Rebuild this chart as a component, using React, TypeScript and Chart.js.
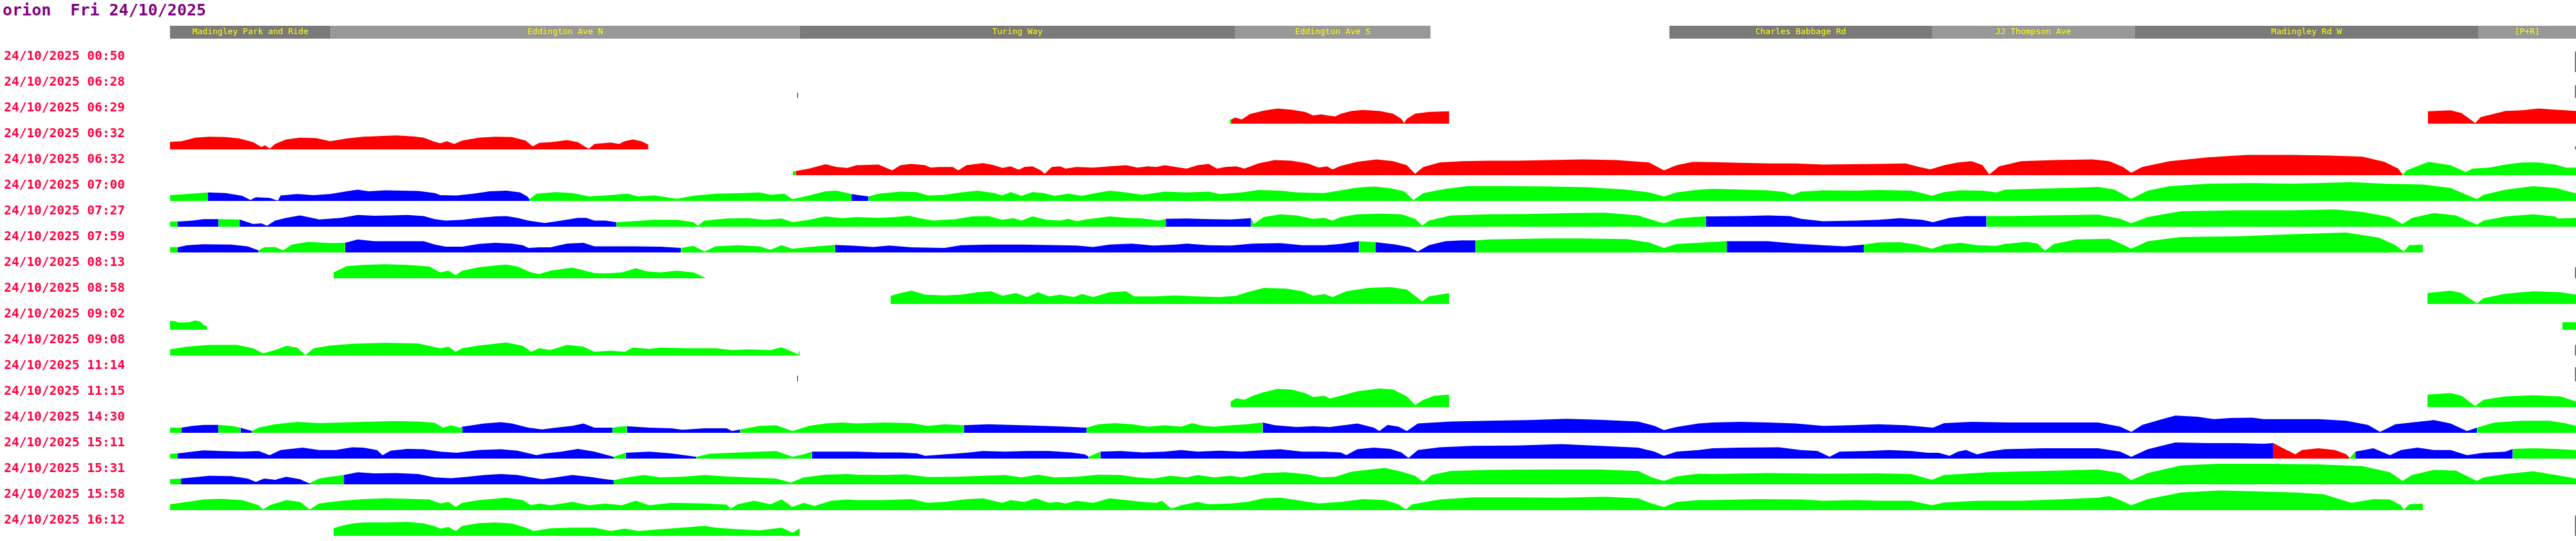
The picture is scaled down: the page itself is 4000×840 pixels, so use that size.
import React, { useEffect, useRef } from 'react';
import { Chart, registerables } from 'chart.js';

Chart.register(...registerables);

const TITLE = 'orion  Fri 24/10/2025';

const ROW_LABELS = [
  '24/10/2025 00:50', '24/10/2025 06:28', '24/10/2025 06:29', '24/10/2025 06:32',
  '24/10/2025 06:32', '24/10/2025 07:00', '24/10/2025 07:27', '24/10/2025 07:59',
  '24/10/2025 08:13', '24/10/2025 08:58', '24/10/2025 09:02', '24/10/2025 09:08',
  '24/10/2025 11:14', '24/10/2025 11:15', '24/10/2025 14:30', '24/10/2025 15:11',
  '24/10/2025 15:31', '24/10/2025 15:58', '24/10/2025 16:12',
];

const ROUTE_LENGTH = 4371; // metres along the route
const SPEED_BAND = 75; // km/h span of each row band
const LABEL_SPEED = 45; // where the row label sits inside its band

const SEG_NAMES = ['Madingley Park and Ride', 'Eddington Ave N', 'Turing Way', 'Eddington Ave S', 'Charles Babbage Rd', 'JJ Thompson Ave', 'Madingley Rd W', '[P+R]'];
const SEG_START = [0, 292, 1144, 1935, 2724, 3201, 3569, 4194];
const SEG_END = [292, 1144, 1935, 2290, 3201, 3569, 4194, 4371];
const SEG_SHADE = ['#7a7a7a', '#989898', '#7a7a7a', '#989898', '#7a7a7a', '#989898', '#7a7a7a', '#989898'];

const COLORS: Record<string, string> = { G: '#00ff00', B: '#0000ff', R: '#ff0000' };

type Pt = [number, number];
type Run = [number, string | null];

// [distance m, speed km/h]
const P02: Pt[] = [[1925,12],[1928,12],[1935,18],[1947,12],[1962,28],[1987,38],[2012,44],[2037,41],[2062,34],[2077,24],[2092,27],[2102,24],[2117,21],[2127,29],[2147,37],[2167,40],[2197,37],[2222,29],[2237,14],[2242,2],[2247,14],[2262,29],[2287,34],[2324,36],
  [4102,36],[4143,39],[4163,31],[4188,2],[4198,19],[4223,29],[4243,37],[4273,39],[4303,44],[4333,41],[4371,37]];
const C02: Run[] = [[1925,'G'],[1928,'R'],[2324,null],[4102,'R']];

const P03: Pt[] = [[0,22],[21,24],[46,34],[71,37],[101,36],[126,32],[151,21],[166,7],[173,12],[181,2],[191,16],[211,29],[236,34],[266,33],[291,24],[321,32],[351,37],[381,39],[411,41],[441,38],[461,34],[481,22],[491,18],[503,24],[516,16],[531,26],[561,34],[591,37],[621,36],[646,26],[659,9],[671,19],[691,21],[706,24],[721,27],[741,21],[753,9],[761,2],[771,16],[801,20],[816,16],[826,24],[841,29],[856,24],[869,14]];
const C03: Run[] = [[0,'R'],[869,null]];

const P04: Pt[] = [[1131,10],[1137,12],[1161,19],[1191,32],[1211,24],[1231,21],
  [1247,29],[1287,31],[1312,14],[1327,29],[1347,33],[1372,29],[1382,22],[1397,24],[1422,24],[1432,14],[1447,29],[1477,35],[1497,29],[1512,21],[1527,26],[1542,16],[1552,24],[1567,26],[1582,14],[1589,4],[1602,24],[1617,26],[1627,19],[1647,24],[1677,22],[1707,26],[1737,29],[1747,26],[1757,22],[1777,26],[1792,24],[1807,29],[1827,24],[1847,19],[1867,29],[1887,33],[1902,19],[1917,24],[1937,26],[1952,19],[1977,34],[2007,44],[2037,42],[2067,34],[2087,22],[2102,26],[2112,17],[2127,27],[2157,39],[2192,46],[2222,41],[2247,29],[2262,4],[2277,24],[2307,37],[2347,41],[2397,42],[2447,42],[2507,44],[2567,46],[2627,44],[2687,37],[2714,14],[2737,29],[2767,39],
  [2803,38],[2853,36],[2903,34],[2953,34],[3003,31],[3053,32],[3103,33],[3153,34],[3178,24],[3198,17],[3223,29],[3248,37],[3273,41],[3293,29],[3305,2],[3323,26],[3363,41],[3423,44],[3493,46],[3523,41],[3548,24],[3563,7],[3583,24],[3633,41],[3703,52],[3773,59],[3853,59],[3923,57],[3983,54],[4023,39],[4048,19],[4056,2],[4063,14],[4103,39],[4143,29],[4171,9],[4183,19],[4213,22],[4243,31],[4273,37],[4303,37],[4333,31],[4353,22],[4371,22]];
const C04: Run[] = [[1131,'G'],[1137,'R'],[4056,'G']];

const P05: Pt[] = [[0,17],[31,20],[69,25],[101,23],[131,15],[146,3],[156,11],[181,9],[196,1],[201,16],[231,20],[261,17],[291,20],[321,28],[341,33],[361,28],[391,31],[421,30],[451,29],[481,23],[491,17],[521,16],[551,21],[581,28],[611,30],[636,25],[649,13],[653,5],[666,21],[701,26],[731,23],[761,13],[791,16],[831,21],[851,13],[881,16],[921,6],[951,15],[991,21],[1041,23],[1071,25],[1091,18],[1116,21],[1131,5],[1161,16],[1191,28],[1211,30],[1238,20],
  [1247,18],[1269,13],[1287,21],[1327,27],[1357,26],[1377,16],[1407,18],[1437,25],[1467,30],[1497,23],[1512,16],[1527,26],[1547,15],[1567,26],[1587,23],[1607,15],[1632,21],[1657,15],[1682,23],[1707,30],[1737,25],[1767,18],[1807,27],[1847,25],[1887,27],[1907,20],[1947,25],[1977,32],[2017,30],[2047,25],[2097,23],[2127,31],[2157,39],[2187,42],[2217,37],[2242,28],[2259,3],[2277,23],[2317,35],[2357,43],[2427,43],[2507,42],[2577,40],[2647,33],[2687,25],[2714,13],[2737,25],[2777,33],
  [2803,35],[2863,33],[2903,31],[2933,26],[2948,18],[2963,27],[3003,31],[3063,30],[3103,32],[3163,30],[3183,23],[3201,15],[3223,26],[3253,31],[3293,30],[3318,25],[3333,33],[3403,36],[3453,38],[3503,41],[3533,33],[3563,6],[3593,30],[3633,43],[3703,50],[3783,52],[3853,50],[3903,52],[3963,55],[4023,50],[4093,48],[4143,38],[4191,5],[4203,18],[4243,33],[4293,43],[4333,38],[4371,22]];
const C05: Run[] = [[0,'G'],[69,'B'],[651,'G'],[1238,'B'],[1269,'G']];

const P06: Pt[] = [[0,15],[14,15],[41,18],[61,22],[88,22],[126,21],[151,8],[166,10],[176,3],[191,18],[211,26],[236,33],[251,28],[271,21],[311,26],[341,34],[371,32],[401,33],[431,34],[461,31],[481,22],[501,18],[531,20],[561,26],[591,30],[611,31],[631,26],[651,18],[681,11],[711,18],[741,26],[756,26],[771,18],[791,18],[811,13],[841,16],[881,20],[921,20],[951,13],[959,3],[971,18],[1011,24],[1051,25],[1081,20],[1111,24],[1131,13],[1161,20],[1191,30],[1221,25],
  [1247,28],[1287,26],[1317,28],[1342,32],[1367,23],[1387,18],[1427,22],[1457,30],[1487,31],[1512,20],[1532,25],[1547,18],[1567,30],[1592,20],[1617,18],[1632,23],[1647,16],[1667,22],[1687,26],[1707,30],[1737,26],[1767,24],[1797,18],[1809,23],[1847,24],[1887,22],[1927,21],[1964,25],[1969,8],[1987,28],[2017,36],[2047,33],[2077,23],[2097,26],[2112,18],[2127,28],[2157,36],[2197,38],[2237,36],[2262,23],[2275,3],[2287,18],[2327,33],[2397,36],[2467,37],[2547,40],[2607,41],[2667,33],[2692,20],[2714,10],[2737,23],[2767,28],[2790,30],
  [2803,30],[2853,31],[2903,33],[2943,31],[2963,23],[3003,16],[3063,18],[3103,20],[3143,25],[3183,20],[3203,13],[3233,26],[3263,31],[3300,31],[3343,31],[3403,33],[3503,35],[3543,23],[3563,10],[3593,28],[3653,45],[3753,48],[3853,48],[3933,50],[3983,43],[4033,28],[4056,8],[4073,26],[4113,40],[4153,33],[4191,6],[4203,18],[4243,30],[4293,36],[4333,30],[4338,24],[4371,26]];
const C06: Run[] = [[0,'G'],[14,'B'],[88,'G'],[126,'B'],[811,'G'],[1809,'B'],[1964,'G'],[2790,'B'],[3300,'G']];

const P07: Pt[] = [[0,16],[14,15],[31,21],[61,24],[111,23],[141,18],[161,6],[171,15],[191,16],[206,6],[221,23],[251,31],[291,27],[318,28],[341,38],[371,33],[411,33],[461,33],[481,23],[501,17],[531,17],[561,25],[591,28],[621,26],[641,21],[651,13],[671,15],[691,15],[721,26],[751,28],[771,18],[791,18],[841,18],[891,17],[928,13],[951,19],[971,3],[991,18],[1031,21],[1071,18],[1091,8],[1111,21],[1131,11],[1161,16],[1208,22],
  [1247,19],[1277,16],[1307,20],[1347,15],[1407,13],[1437,21],[1487,23],[1547,23],[1617,21],[1647,20],[1677,16],[1707,23],[1747,26],[1787,20],[1827,23],[1847,26],[1887,21],[1927,20],[1967,26],[2017,27],[2057,21],[2097,21],[2127,25],[2160,33],[2190,30],[2227,23],[2252,15],[2267,3],[2287,21],[2317,33],[2347,35],[2372,35],[2397,38],[2497,41],[2567,41],[2647,39],[2687,29],[2714,13],[2737,25],[2777,28],
  [2803,31],[2828,33],[2903,33],[2953,26],[3003,21],[3043,18],[3077,23],[3103,29],[3143,30],[3173,23],[3201,11],[3223,23],[3253,28],[3283,21],[3318,19],[3333,25],[3373,31],[3393,26],[3406,5],[3423,25],[3463,38],[3523,40],[3548,23],[3563,11],[3593,33],[3653,45],[3753,47],[3853,53],[3953,58],[4013,43],[4043,21],[4058,3],[4068,21],[4093,23]];
const C07: Run[] = [[0,'G'],[14,'B'],[161,'G'],[318,'B'],[928,'G'],[1208,'B'],[2160,'G'],[2190,'B'],[2372,'G'],[2828,'B'],[3077,'G'],[4093,null]];

const P08: Pt[] = [[297,17],[321,35],[351,39],[391,41],[431,39],[471,34],[491,17],[506,22],[519,9],[531,22],[561,32],[591,37],[611,40],[631,34],[656,17],[671,12],[691,22],[731,31],[761,19],[771,15],[791,14],[821,17],[846,29],[866,20],[891,17],[921,22],[951,17],[974,0]];
const C08: Run[] = [[297,'G'],[974,null]];

const P09: Pt[] = [[1309,24],[1327,32],[1347,39],[1372,27],[1407,25],[1437,27],[1467,34],[1492,37],[1512,24],[1537,32],[1557,20],[1577,34],[1597,22],[1617,27],[1642,20],[1657,29],[1677,20],[1707,34],[1737,37],[1752,22],[1787,22],[1827,25],[1867,22],[1907,20],[1937,24],[1957,34],[1987,47],[2027,45],[2057,37],[2077,24],[2097,29],[2112,20],[2137,37],[2177,47],[2217,49],[2247,42],[2275,7],[2287,22],[2324,32],
  [4101,32],[4143,39],[4163,32],[4191,2],[4203,17],[4243,30],[4293,37],[4343,34],[4371,27]];
const C09: Run[] = [[1309,'G'],[2324,null],[4101,'G']];

const P10: Pt[] = [[0,26],[8,26],[15,21],[35,22],[45,27],[55,24],[60,15],[64,12],[67,11],[4346,22],[4371,22]];
const C10: Run[] = [[0,'G'],[67,null],[4346,'G']];

const P11: Pt[] = [[0,18],[31,26],[71,31],[121,31],[151,21],[169,6],[191,16],[211,28],[231,23],[246,1],[261,21],[291,29],[331,34],[391,37],[451,35],[491,21],[506,26],[519,11],[531,21],[561,29],[611,38],[641,28],[656,11],[671,21],[691,16],[721,31],[751,26],[771,11],[801,14],[826,11],[841,23],[871,19],[891,23],[941,21],[991,21],[1021,16],[1051,18],[1091,16],[1111,24],[1131,11],[1141,3],[1144,16]];
const C11: Run[] = [[0,'G'],[1144,null]];

const P13: Pt[] = [[1927,16],[1937,26],[1952,21],[1967,33],[1987,43],[2012,53],[2037,51],[2062,41],[2077,29],[2097,33],[2107,25],[2127,33],[2157,46],[2197,54],[2222,51],[2247,31],[2262,6],[2277,21],[2297,33],[2324,36],
  [4101,36],[4143,41],[4163,33],[4188,3],[4203,21],[4243,31],[4293,34],[4343,31],[4371,16]];
const C13: Run[] = [[1927,'G'],[2324,null],[4101,'G']];

const P14: Pt[] = [[0,15],[21,15],[41,20],[61,23],[88,23],[111,20],[128,15],[149,5],[161,15],[191,25],[231,32],[271,28],[311,30],[351,32],[411,34],[451,33],[481,29],[496,15],[511,22],[526,15],[531,18],[541,20],[571,27],[601,31],[621,27],[651,15],[676,10],[701,15],[731,20],[751,27],[771,15],[804,15],[816,18],[830,19],[871,15],[911,13],[931,9],[971,13],[1011,13],[1021,5],[1036,10],[1071,20],[1101,22],[1131,5],[1161,20],[1191,27],[1221,30],
  [1247,27],[1297,30],[1347,28],[1377,20],[1407,25],[1442,22],[1487,25],[1547,22],[1587,20],[1627,18],[1665,15],[1687,25],[1717,28],[1747,25],[1777,18],[1807,22],[1837,18],[1857,28],[1877,20],[1897,18],[1927,22],[1957,25],[1985,30],[2007,22],[2047,17],[2077,19],[2107,17],[2137,23],[2157,27],[2187,15],[2197,5],[2212,23],[2232,18],[2247,5],[2267,27],[2327,33],[2397,35],[2467,37],[2537,41],[2597,38],[2667,33],[2697,20],[2714,8],[2737,17],[2777,27],
  [2803,30],[2853,32],[2903,30],[2953,27],[3003,20],[3053,22],[3103,25],[3153,22],[3203,15],[3223,28],[3273,32],[3343,30],[3403,30],[3503,30],[3543,18],[3563,3],[3583,23],[3613,37],[3643,50],[3683,47],[3713,40],[3743,43],[3783,44],[3803,40],[3853,40],[3903,40],[3953,35],[3993,23],[4015,3],[4043,25],[4083,32],[4113,37],[4143,27],[4173,5],[4191,15],[4223,30],[4273,35],[4323,35],[4353,27],[4371,20]];
const C14: Run[] = [[0,'G'],[21,'B'],[88,'G'],[128,'B'],[149,'G'],[531,'B'],[804,'G'],[830,'B'],[1036,'G'],[1442,'B'],[1665,'G'],[1985,'B'],[4191,'G']];

const P15: Pt[] = [[0,14],[14,15],[41,20],[61,24],[91,22],[131,20],[161,22],[181,10],[201,25],[241,32],[271,25],[301,25],[331,33],[351,32],[376,25],[386,10],[401,23],[431,28],[461,27],[491,20],[521,17],[561,25],[601,27],[631,23],[666,10],[681,15],[711,20],[741,28],[771,20],[806,5],[828,17],[871,20],[911,15],[956,5],[981,14],[1021,17],[1071,20],[1101,22],[1131,5],[1151,12],[1166,20],[1230,20],
  [1247,20],[1287,18],[1327,18],[1357,15],[1372,8],[1407,12],[1447,17],[1477,22],[1517,20],[1557,22],[1597,22],[1637,18],[1662,12],[1669,5],[1690,20],[1727,22],[1767,18],[1807,20],[1837,25],[1867,20],[1907,23],[1947,20],[1987,25],[2017,27],[2057,20],[2097,20],[2127,18],[2137,10],[2157,27],[2187,32],[2217,28],[2237,18],[2250,2],[2267,25],[2307,33],[2367,37],[2447,38],[2527,42],[2597,37],[2667,32],[2697,20],[2714,8],[2737,20],[2777,25],
  [2803,30],[2853,32],[2923,33],[2963,25],[2993,22],[3015,5],[3033,20],[3083,22],[3123,25],[3163,22],[3193,17],[3213,17],[3233,8],[3248,20],[3263,25],[3283,12],[3303,20],[3333,27],[3403,30],[3503,30],[3543,20],[3563,5],[3593,27],[3643,47],[3703,45],[3753,45],[3803,43],[3821,45],[3861,12],[3873,25],[3903,30],[3933,25],[3953,13],[3960,2],[3970,20],[4003,30],[4033,10],[4053,25],[4083,32],[4113,25],[4143,25],[4173,10],[4203,17],[4243,20],[4256,28],[4293,30],[4333,28],[4371,25]];
const C15: Run[] = [[0,'G'],[14,'B'],[806,'G'],[828,'B'],[956,'G'],[1166,'B'],[1669,'G'],[1690,'B'],[3821,'R'],[3960,'G'],[3970,'B'],[4256,'G']];

const P16: Pt[] = [[0,15],[20,17],[41,20],[71,25],[111,24],[141,17],[156,7],[171,17],[191,13],[211,22],[236,15],[254,2],[256,5],[271,17],[291,22],[316,27],[341,35],[371,32],[411,33],[451,30],[481,20],[511,18],[541,22],[571,27],[601,30],[631,27],[656,20],[676,15],[701,20],[731,27],[761,22],[791,15],[806,12],[831,20],[861,27],[891,20],[931,22],[971,27],[1011,23],[1051,20],[1101,17],[1128,5],[1151,20],[1191,28],[1231,30],
  [1247,28],[1297,27],[1337,29],[1377,21],[1427,22],[1477,25],[1517,27],[1547,20],[1577,28],[1607,20],[1647,22],[1687,28],[1727,27],[1757,20],[1787,17],[1817,25],[1847,20],[1867,27],[1897,20],[1927,25],[1947,20],[1987,33],[2027,35],[2067,29],[2092,20],[2117,22],[2147,37],[2207,48],[2237,37],[2262,25],[2277,7],[2292,27],[2327,39],[2397,42],[2497,43],[2597,43],[2667,39],[2692,20],[2714,10],[2737,23],[2777,31],
  [2803,30],[2903,33],[3003,31],[3103,32],[3163,30],[3201,13],[3223,27],[3303,35],[3403,39],[3503,43],[3543,33],[3563,12],[3593,33],[3653,55],[3723,60],[3803,60],[3903,58],[3983,53],[4033,35],[4056,10],[4073,27],[4113,42],[4153,40],[4191,10],[4203,20],[4243,30],[4293,38],[4343,25],[4371,17]];
const C16: Run[] = [[0,'G'],[20,'B'],[256,'G'],[316,'B'],[806,'G']];

const P17: Pt[] = [[0,17],[31,24],[61,31],[91,33],[131,29],[161,14],[169,2],[181,14],[211,29],[236,24],[254,2],[271,19],[311,27],[351,32],[391,34],[431,33],[471,31],[491,19],[506,24],[519,9],[531,21],[561,29],[611,36],[641,29],[656,14],[671,19],[691,14],[731,24],[761,14],[791,19],[821,14],[846,27],[871,14],[911,21],[971,19],[1011,16],[1019,4],[1031,17],[1061,27],[1091,17],[1111,31],[1131,9],[1151,21],[1171,12],[1201,27],[1231,31],
  [1247,29],[1297,29],[1347,32],[1377,21],[1407,24],[1447,32],[1477,34],[1512,21],[1527,29],[1552,24],[1572,34],[1597,21],[1612,24],[1627,19],[1647,27],[1677,21],[1707,34],[1737,29],[1767,24],[1792,21],[1802,27],[1819,4],[1837,14],[1867,24],[1887,17],[1927,19],[1957,24],[1987,34],[2017,36],[2047,29],[2087,19],[2127,24],[2167,32],[2207,29],[2232,17],[2245,2],[2257,17],[2307,31],[2367,37],[2447,37],[2527,36],[2607,39],[2667,34],[2692,19],[2714,9],[2737,24],[2777,29],
  [2803,29],[2883,32],[2963,31],[3003,27],[3063,29],[3103,27],[3163,27],[3201,14],[3223,22],[3283,27],[3363,27],[3443,32],[3503,36],[3523,41],[3543,29],[3563,14],[3593,32],[3653,51],[3723,57],[3803,54],[3863,51],[3913,46],[3943,31],[3963,21],[4003,32],[4033,31],[4053,14],[4058,1],[4068,17],[4093,19]];
const C17: Run[] = [[0,'G'],[4093,null]];

const P18: Pt[] = [[297,22],[311,29],[331,36],[351,39],[391,39],[431,41],[461,36],[481,28],[491,21],[506,26],[519,14],[531,29],[561,37],[591,39],[621,36],[646,24],[661,14],[691,22],[731,24],[771,24],[801,14],[826,21],[851,14],[891,19],[931,24],[971,29],[991,24],[1031,19],[1071,16],[1111,24],[1131,9],[1144,22]];
const C18: Run[] = [[297,'G'],[1144,null]];

// short end-of-trace markers: row index, distance, speed
const MARK_ROW = [0, 1, 1, 3, 8, 11, 12, 12, 18];
const MARK_DIST = [4370, 4370, 1140, 4370, 4370, 4370, 4370, 1140, 4370];
const MARK_SPEED = [60, 37, 15, 9, 32, 31, 41, 16, 59];

const ROW_DATA: { row: number; pts: Pt[]; runs: Run[] }[] = [
  { row: 2, pts: P02, runs: C02 }, { row: 3, pts: P03, runs: C03 }, { row: 4, pts: P04, runs: C04 },
  { row: 5, pts: P05, runs: C05 }, { row: 6, pts: P06, runs: C06 }, { row: 7, pts: P07, runs: C07 },
  { row: 8, pts: P08, runs: C08 }, { row: 9, pts: P09, runs: C09 }, { row: 10, pts: P10, runs: C10 },
  { row: 11, pts: P11, runs: C11 }, { row: 13, pts: P13, runs: C13 }, { row: 14, pts: P14, runs: C14 },
  { row: 15, pts: P15, runs: C15 }, { row: 16, pts: P16, runs: C16 }, { row: 17, pts: P17, runs: C17 },
  { row: 18, pts: P18, runs: C18 },
];

const NROWS = ROW_LABELS.length;
const rowBase = (row: number) => (NROWS - 1 - row) * SPEED_BAND;

function buildDatasets() {
  const ds: any[] = [];
  for (const { row, pts, runs } of ROW_DATA) {
    const base = rowBase(row);
    runs.forEach(([a, col], k) => {
      if (!col) return;
      const b = k + 1 < runs.length ? runs[k + 1][0] : Infinity;
      let s = 0;
      pts.forEach(([d], i) => { if (d <= a) s = i; });
      let e = pts.length - 1;
      for (let i = pts.length - 1; i >= 0; i--) if (pts[i][0] >= b) e = i;
      ds.push({
        type: 'line',
        data: pts.slice(s, e + 1).map(([x, v]) => ({ x, y: base + v })),
        backgroundColor: COLORS[col],
        borderColor: 'rgba(0,0,0,0)',
        borderWidth: 0,
        pointRadius: 0,
        tension: 0,
        fill: { value: base },
      });
    });
  }
  MARK_ROW.forEach((row, i) => {
    const base = rowBase(row);
    ds.push({
      type: 'line',
      data: [{ x: MARK_DIST[i], y: base }, { x: MARK_DIST[i], y: base + MARK_SPEED[i] }],
      borderColor: '#000000',
      borderWidth: 1,
      pointRadius: 0,
      fill: false,
    });
  });
  return ds;
}

const headerPlugin = {
  id: 'routeHeader',
  afterDraw(chart: any) {
    const { ctx } = chart;
    const x = chart.scales.x;
    const top = 40;
    const h = 20;
    ctx.save();
    SEG_NAMES.forEach((name, i) => {
      const x0 = x.getPixelForValue(SEG_START[i]);
      const x1 = x.getPixelForValue(SEG_END[i]);
      ctx.fillStyle = SEG_SHADE[i];
      ctx.fillRect(x0, top, x1 - x0, h);
      ctx.fillStyle = '#ffff00';
      ctx.font = '13px "DejaVu Sans Mono"';
      ctx.textAlign = 'center';
      ctx.textBaseline = 'middle';
      ctx.fillText(name, (x0 + x1) / 2, top + h / 2);
    });
    ctx.restore();
  },
};

export default function App() {
  const ref = useRef<HTMLCanvasElement | null>(null);
  useEffect(() => {
    if (!ref.current) return;
    const tickValues = ROW_LABELS.map((_, i) => rowBase(i) + LABEL_SPEED).sort((a, b) => a - b);
    const chart = new Chart(ref.current, {
      type: 'line',
      data: { datasets: buildDatasets() },
      plugins: [headerPlugin],
      options: {
        responsive: false,
        animation: false,
        devicePixelRatio: 1,
        events: [],
        layout: { padding: { left: 4, right: 0, top: 0, bottom: 8 } },
        scales: {
          x: { type: 'linear', min: 0, max: ROUTE_LENGTH, display: false },
          y: {
            type: 'linear',
            min: 0,
            max: NROWS * SPEED_BAND,
            bounds: 'data',
            position: 'left',
            grid: { display: false, drawTicks: false },
            border: { display: false },
            afterBuildTicks: (scale: any) => {
              scale.ticks = tickValues.map((v) => ({ value: v }));
            },
            afterFit: (scale: any) => {
              scale.width = 260;
              scale.paddingTop = 0;
              scale.paddingBottom = 0;
            },
            ticks: {
              autoSkip: false,
              padding: 70,
              color: '#ff0040',
              font: { family: 'DejaVu Sans Mono', size: 19.5, weight: 'bold' },
              callback: (value: any) => {
                const row = NROWS - 1 - Math.round((Number(value) - LABEL_SPEED) / SPEED_BAND);
                return ROW_LABELS[row];
              },
            },
          },
        },
        plugins: {
          legend: { display: false },
          tooltip: { enabled: false },
          title: {
            display: true,
            text: TITLE,
            align: 'start',
            color: '#800080',
            font: { family: 'DejaVu Sans Mono', size: 25, weight: 'bold', lineHeight: 1.2 },
            padding: { top: 2, bottom: 40 },
          },
        },
      } as any,
    });
    return () => chart.destroy();
  }, []);
  return (
    <div style={{ position: 'fixed', left: 0, top: 0, width: 4000, height: 840, background: '#ffffff' }}>
      <canvas ref={ref} width={4000} height={840} style={{ display: 'block' }} />
    </div>
  );
}
